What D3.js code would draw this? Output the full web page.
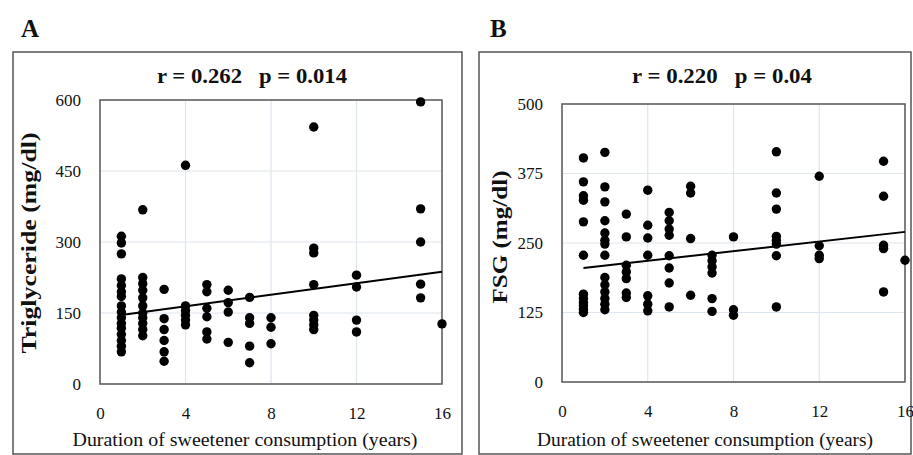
<!DOCTYPE html>
<html><head><meta charset="utf-8">
<script src="https://cdn.jsdelivr.net/npm/d3@7"></script>
<style>
html,body{margin:0;padding:0;background:#fff;}
text{font-family:"Liberation Serif","Times New Roman",serif;fill:#111;}
</style></head>
<body><svg id="c" width="913" height="455"></svg>
<script>
// ---- data ----
const xTicks = [0, 4, 8, 12, 16];
const yTicksA = [0, 150, 300, 450, 600];
const yTicksB = [0, 125, 250, 375, 500];

// Panel A: duration (years) vs triglyceride (mg/dl)
const pointsA = [
  [1,312],[1,298],[1,275],[1,222],[1,208],[1,195],[1,185],[1,165],[1,152],[1,140],[1,128],[1,118],[1,105],[1,92],[1,80],[1,68],
  [2,368],[2,225],[2,212],[2,198],[2,182],[2,165],[2,150],[2,140],[2,128],[2,115],[2,102],
  [3,200],[3,138],[3,115],[3,92],[3,68],[3,48],
  [4,462],[4,165],[4,155],[4,145],[4,135],[4,125],
  [5,210],[5,195],[5,160],[5,142],[5,110],[5,95],
  [6,198],[6,172],[6,152],[6,88],
  [7,183],[7,140],[7,128],[7,80],[7,45],
  [8,140],[8,120],[8,85],
  [10,543],[10,287],[10,277],[10,210],[10,145],[10,135],[10,125],[10,115],
  [12,230],[12,205],[12,135],[12,110],
  [15,596],[15,370],[15,300],[15,211],[15,182],
  [16,127]
];
const trendA = [[1,146],[16,237]];

// Panel B: duration (years) vs FSG (mg/dl)
const pointsB = [
  [1,403],[1,360],[1,335],[1,327],[1,288],[1,228],[1,158],[1,150],[1,143],[1,137],[1,131],[1,125],
  [2,413],[2,351],[2,324],[2,290],[2,268],[2,255],[2,248],[2,228],[2,188],[2,175],[2,162],[2,150],[2,140],[2,130],
  [3,302],[3,261],[3,210],[3,198],[3,186],[3,160],[3,152],
  [4,345],[4,282],[4,259],[4,228],[4,155],[4,140],[4,128],
  [5,305],[5,290],[5,275],[5,264],[5,227],[5,205],[5,178],[5,135],
  [6,352],[6,340],[6,258],[6,156],
  [7,228],[7,218],[7,207],[7,196],[7,150],[7,127],
  [8,261],[8,130],[8,120],
  [10,414],[10,340],[10,311],[10,262],[10,255],[10,248],[10,227],[10,135],
  [12,370],[12,245],[12,228],[12,222],
  [15,397],[15,334],[15,246],[15,240],[15,162],
  [16,219]
];
const trendB = [[1,205],[16,270]];

const panels = [
  {letter:"A", title:"r = 0.262   p = 0.014", ylabel:"Triglyceride (mg/dl)", xlabel:"Duration of sweetener consumption (years)",
   pts:pointsA, trend:trendA, yTicks:yTicksA, ymax:600,
   frame:{x:13,y:52,w:449,h:402}, plot:{l:100,t:100,r:442,b:384},
   letterX:21, titleX:252, titleLen:190, ylabX:36, ylabY:243, ylabLen:221, xlabX:245, xlabLen:345},
  {letter:"B", title:"r = 0.220   p = 0.04", ylabel:"FSG (mg/dl)", xlabel:"Duration of sweetener consumption (years)",
   pts:pointsB, trend:trendB, yTicks:yTicksB, ymax:500,
   frame:{x:479,y:52,w:432,h:402}, plot:{l:562,t:104,r:905,b:382},
   letterX:490, titleX:722, titleLen:180, ylabX:507, ylabY:237, ylabLen:133, xlabX:705, xlabLen:336}
];

const svg = d3.select("#c");

panels.forEach(p => {
  const g = svg.append("g");
  g.append("rect").attr("x",p.frame.x).attr("y",p.frame.y).attr("width",p.frame.w).attr("height",p.frame.h)
    .attr("fill","none").attr("stroke","#555").attr("stroke-width",1.5);
  g.append("text").attr("x",p.letterX).attr("y",37).attr("font-size",25).attr("font-weight","bold").text(p.letter);
  g.append("text").attr("x",p.titleX).attr("y",83).attr("text-anchor","middle").attr("font-size",21)
    .attr("font-weight","bold").style("white-space","pre")
    .attr("textLength",p.titleLen).attr("lengthAdjust","spacingAndGlyphs").text(p.title);

  const x = d3.scaleLinear().domain([0,16]).range([p.plot.l,p.plot.r]);
  const y = d3.scaleLinear().domain([0,p.ymax]).range([p.plot.b,p.plot.t]);

  // gridlines
  g.append("g").selectAll("line").data(xTicks.slice(1,-1)).join("line")
    .attr("x1",d=>x(d)).attr("x2",d=>x(d)).attr("y1",p.plot.t).attr("y2",p.plot.b)
    .attr("stroke","#dde5ef").attr("stroke-width",1.2);
  g.append("g").selectAll("line").data(p.yTicks.slice(1,-1)).join("line")
    .attr("y1",d=>y(d)).attr("y2",d=>y(d)).attr("x1",p.plot.l).attr("x2",p.plot.r)
    .attr("stroke","#dde5ef").attr("stroke-width",1.2);

  // axes (labels only)
  const xa = g.append("g").attr("transform",`translate(0,${p.plot.b})`)
    .call(d3.axisBottom(x).tickValues(xTicks).tickSize(0).tickPadding(23));
  xa.select(".domain").remove();
  xa.selectAll("text").attr("font-size",17).style("font-family",'"Liberation Serif",serif').attr("fill","#111");
  const ya = g.append("g").attr("transform",`translate(${p.plot.l},0)`)
    .call(d3.axisLeft(y).tickValues(p.yTicks).tickSize(0).tickPadding(19));
  ya.select(".domain").remove();
  ya.selectAll("text").attr("font-size",17).style("font-family",'"Liberation Serif",serif').attr("fill","#111");

  g.append("rect").attr("x",p.plot.l).attr("y",p.plot.t).attr("width",p.plot.r-p.plot.l).attr("height",p.plot.b-p.plot.t)
    .attr("fill","none").attr("stroke","#555").attr("stroke-width",1.5);

  // points
  g.append("g").selectAll("circle").data(p.pts).join("circle")
    .attr("cx",d=>x(d[0])).attr("cy",d=>y(d[1])).attr("r",4.7).attr("fill","#000");

  // trend
  g.append("path").datum(p.trend).attr("d",d3.line().x(d=>x(d[0])).y(d=>y(d[1])))
    .attr("stroke","#000").attr("stroke-width",2).attr("fill","none");

  // axis titles
  g.append("text").attr("x",p.xlabX).attr("y",446).attr("text-anchor","middle").attr("font-size",19)
    .attr("textLength",p.xlabLen).attr("lengthAdjust","spacingAndGlyphs").text(p.xlabel);
  g.append("text").attr("transform",`translate(${p.ylabX},${p.ylabY}) rotate(-90)`).attr("text-anchor","middle")
    .attr("font-size",20).attr("font-weight","bold")
    .attr("textLength",p.ylabLen).attr("lengthAdjust","spacingAndGlyphs").text(p.ylabel);
});
</script></body></html>
